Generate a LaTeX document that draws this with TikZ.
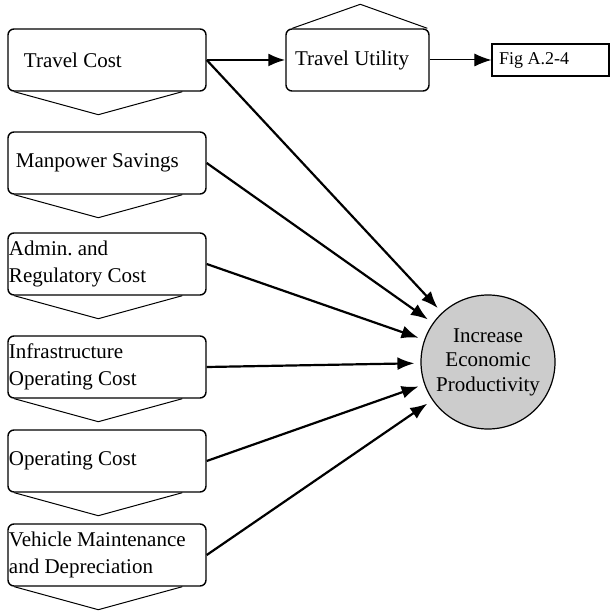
\documentclass[tikz,border=0pt]{standalone}
\usepackage{fontspec}
\setmainfont{Liberation Serif}
\usetikzlibrary{arrows.meta}
\definecolor{goalgray}{HTML}{CCCCCC}

\begin{document}
\begin{tikzpicture}[
    x=0.5pt, y=-0.5pt,                          % one unit = one pixel of the sketch
    every node/.style={font=\fontsize{10.5}{13.5}\selectfont\frenchspacing}, % Set font
    costbox/.style={                            % Define the style for the cost boxes
        rectangle,                              % Rectangle shape
        rounded corners=3pt,                    % Rounded corners
        minimum width=99pt,                     % Width of the box
        minimum height=31pt,                    % Height of the box
        inner xsep=0.5pt,                       % Text close to the left edge
        text width=98pt,                        % Text width
        align=flush left,                       % Left aligned text
        line width=0.7pt,                       % Border line width
        draw=black                              % Border line color
    },
    chev/.style={line width=0.5pt},             % Chevrons below the boxes
    link/.style={                               % Arrows into the goal
        -{Latex[length=8.5pt,width=6.5pt]},
        line width=1.1pt,
        shorten >=3pt
    }
]

% Frame of the sketch
\useasboundingbox (0,0) rectangle (613,614);

% Cost boxes
\node[costbox] (tc) at (107,60)  {\hspace*{7.5pt}Travel Cost};
\node[costbox] (mp) at (107,163) {\hspace*{3.5pt}Manpower Savings};
\node[costbox] (ar) at (107,264) {Admin. and\\Regulatory Cost};
\node[costbox] (ic) at (107,367) {Infrastructure\\Operating Cost};
\node[costbox] (oc) at (107,461) {Operating Cost};
\node[costbox] (vm) at (107,555) {Vehicle Maintenance\\and Depreciation};

% Travel utility and reference
\node[costbox, minimum width=71.5pt, text width=70.5pt] (tu) at (357.5,60)
    {\hspace*{4pt}Travel Utility};
\node[draw=black, line width=0.6pt, rectangle, minimum width=58.5pt,
      minimum height=16pt, inner xsep=3.5pt, text width=51.5pt, align=flush left,
      font=\fontsize{9}{11}\selectfont] (fig) at (550.5,60) {Fig A.2-4};

% Goal
\node[circle, draw=black, line width=0.6pt, fill=goalgray, minimum size=67pt,
      inner sep=0pt, align=flush center, font=\fontsize{10.5}{12.3}\selectfont]
      (goal) at (488,362) {Increase\\Economic\\Productivity};

% Chevrons and arrows into the goal
\foreach \n in {tc,mp,ar,ic,oc,vm} {
    \draw[chev] (\n.south west) ++(7,0) -- ++(84,23) -- ++(84,-23);
    \draw[link] (\n.east) -- (goal);
}

% Roof on travel utility
\draw[chev] (tu.north west) ++(7,0) -- ++(68,-24) -- ++(67,24);

% Arrows along the top
\draw[link, shorten >=0pt] (tc.east) -- (tu.west);
\draw[link, line width=0.5pt, shorten >=0pt] (tu.east) -- (fig.west);

\end{tikzpicture}
\end{document}
